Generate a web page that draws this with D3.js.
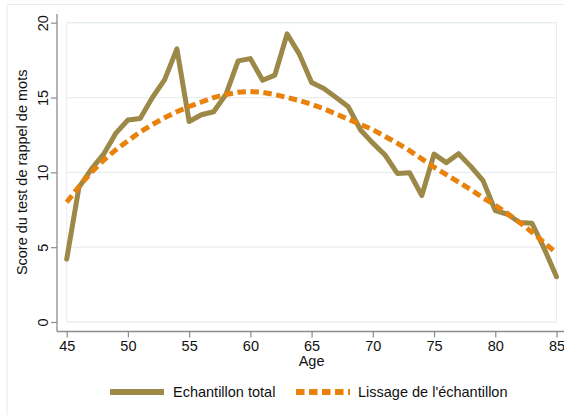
<!DOCTYPE html>
<html>
<head>
<meta charset="utf-8">
<script src="https://cdn.jsdelivr.net/npm/d3@7"></script>
<style>
  html, body { margin: 0; padding: 0; background: #fff; }
  svg { display: block; font-family: "Liberation Sans", Arial, sans-serif; }
</style>
</head>
<body>
<svg id="chart" width="564" height="415"></svg>
<script>
// ---- data ----
const ages = d3.range(45, 86);
const echantillonTotal = [
  4.2, 9.0, 10.2, 11.2, 12.6, 13.5, 13.6, 15.0, 16.2, 18.25,
  13.4, 13.85, 14.05, 15.2, 17.45, 17.6, 16.15, 16.5, 19.25, 17.9,
  16.0, 15.6, 15.0, 14.38, 12.83, 11.95, 11.16, 9.93, 9.97, 8.45,
  11.22, 10.65, 11.25, 10.4, 9.45, 7.45, 7.2, 6.65, 6.6, 4.9, 3.03
];
const lissage = [
  8.0, 9.05, 10.0, 10.8, 11.5, 12.1, 12.7, 13.2, 13.65, 14.05,
  14.4, 14.7, 15.0, 15.2, 15.35, 15.4, 15.35, 15.2, 15.0, 14.8,
  14.55, 14.25, 13.9, 13.55, 13.2, 12.85, 12.4, 11.95, 11.45, 10.9,
  10.35, 9.85, 9.35, 8.85, 8.3, 7.8, 7.25, 6.65, 6.0, 5.3, 4.6
];
const xTicks = [45, 50, 55, 60, 65, 70, 75, 80, 85];
const yTicks = [0, 5, 10, 15, 20];
const seriesNames = ["Echantillon total", "Lissage de l'échantillon"];
const yTitle = "Score du test de rappel de mots";
const xTitle = "Age";

// ---- styles ----
const colSolid = "#9c8847";
const colDash = "#e8820c";
const axisCol = "#8c8c8c";
const gridCol = "#e6eef1";
const fs = 14.5;

const svg = d3.select("#chart");
const x = d3.scaleLinear().domain([45, 85]).range([66.7, 556.5]);
const y = d3.scaleLinear().domain([0, 20]).range([322, 22.7]);

// outer frame
svg.append("rect").attr("x", 7).attr("y", 4.5).attr("width", 600).attr("height", 500)
  .attr("fill", "#fff").attr("stroke", "#e4ecef").attr("stroke-width", 1);

// plot region frame
svg.append("rect")
  .attr("x", x(45)).attr("y", y(20))
  .attr("width", x(85) - x(45)).attr("height", y(0) - y(20))
  .attr("fill", "none").attr("stroke", gridCol).attr("stroke-width", 1);

// gridlines
svg.append("g").selectAll("line").data(yTicks).join("line")
  .attr("x1", x(45)).attr("x2", x(85))
  .attr("y1", d => y(d)).attr("y2", d => y(d))
  .attr("stroke", gridCol).attr("stroke-width", 1.2);

// y axis
const yAxis = svg.append("g").attr("transform", "translate(57,0)")
  .call(d3.axisLeft(y).tickValues(yTicks).tickSize(6).tickPadding(4).tickSizeOuter(0));
yAxis.select(".domain").remove();
yAxis.append("line").attr("x1", 0).attr("x2", 0).attr("y1", 14).attr("y2", 331.5)
  .attr("stroke", axisCol).attr("stroke-width", 1.3);
yAxis.selectAll(".tick line").attr("stroke", axisCol).attr("stroke-width", 1.2);
yAxis.selectAll(".tick text")
  .attr("font-size", fs).attr("fill", "#111")
  .attr("x", null).attr("dy", null)
  .attr("text-anchor", "middle")
  .attr("transform", "translate(-14.5,0) rotate(-90)")
  .attr("y", 0).attr("dy", "0.35em");

// x axis
const xAxis = svg.append("g").attr("transform", "translate(0,331.5)")
  .call(d3.axisBottom(x).tickValues(xTicks).tickSize(6).tickPadding(3.5).tickSizeOuter(0));
xAxis.select(".domain").remove();
xAxis.append("line").attr("x1", 57).attr("x2", 564).attr("y1", 0).attr("y2", 0)
  .attr("stroke", axisCol).attr("stroke-width", 1.3);
xAxis.selectAll(".tick line").attr("stroke", axisCol).attr("stroke-width", 1.2);
xAxis.selectAll(".tick text").attr("font-size", fs).attr("fill", "#111");

// titles
svg.append("text").attr("x", x(65)).attr("y", 366)
  .attr("text-anchor", "middle").attr("font-size", fs).attr("fill", "#111").text(xTitle);
svg.append("text")
  .attr("transform", `translate(27,${(y(0) + y(20)) / 2}) rotate(-90)`)
  .attr("text-anchor", "middle").attr("font-size", fs).attr("fill", "#111").text(yTitle);

// lines
const line = vals => d3.line().x((d, i) => x(ages[i])).y(d => y(d))(vals);
svg.append("path").attr("d", line(echantillonTotal))
  .attr("fill", "none").attr("stroke", colSolid).attr("stroke-width", 5)
  .attr("stroke-linejoin", "round").attr("stroke-linecap", "round");
svg.append("path").attr("d", line(lissage))
  .attr("fill", "none").attr("stroke", colDash).attr("stroke-width", 5)
  .attr("stroke-dasharray", "8.5,4.5");

// legend
const leg = svg.append("g");
const legY = 392;
leg.append("line").attr("x1", 110).attr("x2", 164).attr("y1", legY).attr("y2", legY)
  .attr("stroke", colSolid).attr("stroke-width", 6);
leg.append("text").attr("x", 173).attr("y", legY).attr("dy", "0.35em")
  .attr("font-size", fs).attr("fill", "#111").text(seriesNames[0]);
leg.append("line").attr("x1", 296).attr("x2", 350).attr("y1", legY).attr("y2", legY)
  .attr("stroke", colDash).attr("stroke-width", 6).attr("stroke-dasharray", "8.5,4.5");
leg.append("text").attr("x", 358).attr("y", legY).attr("dy", "0.35em")
  .attr("font-size", fs).attr("fill", "#111").text(seriesNames[1]);
</script>
</body>
</html>
